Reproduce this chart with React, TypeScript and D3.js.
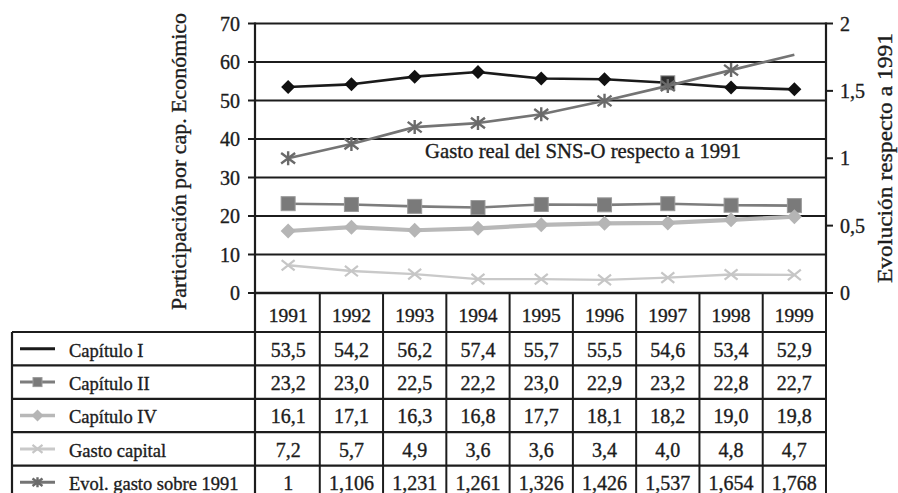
import React from "react";
import * as d3 from "d3";

const years = ["1991", "1992", "1993", "1994", "1995", "1996", "1997", "1998", "1999"];
const capituloI = [53.5, 54.2, 56.2, 57.4, 55.7, 55.5, 54.6, 53.4, 52.9];
const capituloII = [23.2, 23.0, 22.5, 22.2, 23.0, 22.9, 23.2, 22.8, 22.7];
const capituloIV = [16.1, 17.1, 16.3, 16.8, 17.7, 18.1, 18.2, 19.0, 19.8];
const gastoCapital = [7.2, 5.7, 4.9, 3.6, 3.6, 3.4, 4.0, 4.8, 4.7];
const evolGasto = [1, 1.106, 1.231, 1.261, 1.326, 1.426, 1.537, 1.654, 1.768];
const leftTicks = [0, 10, 20, 30, 40, 50, 60, 70];
const rightTicks = [0, 0.5, 1, 1.5, 2];
const seriesNames = ["Capítulo I", "Capítulo II", "Capítulo IV", "Gasto capital", "Evol. gasto sobre 1991"];
const leftTitle = "Participación por cap. Económico";
const rightTitle = "Evolución respecto a 1991";
const annotation = "Gasto real del SNS-O respecto a 1991";

const FONT = "Liberation Serif, DejaVu Serif, serif";
const INK = "#1c1c1c";

const comma = (s: string) => s.replace(".", ",");
const fmt1 = (v: number) => comma(d3.format(".1f")(v));
const fmt3 = (v: number) => (v === 1 ? "1" : comma(d3.format(".3f")(v)));

type Kind = "diamond" | "square" | "x" | "star" | "none";

function Marker({ kind, x, y, size, fill }: { kind: Kind; x: number; y: number; size: number; fill: string }) {
  const h = size / 2;
  if (kind === "diamond") {
    return <path d={`M${x},${y - h}L${x + h},${y}L${x},${y + h}L${x - h},${y}Z`} fill={fill} />;
  }
  if (kind === "square") {
    return <rect x={x - h} y={y - h} width={size} height={size} fill={fill} stroke="#9a9a9a" strokeWidth={1} />;
  }
  if (kind === "x") {
    return <path d={`M${x - h},${y - h * 0.8}L${x + h},${y + h * 0.8}M${x - h},${y + h * 0.8}L${x + h},${y - h * 0.8}`} stroke={fill} strokeWidth={2.2} fill="none" />;
  }
  if (kind === "star") {
    return (
      <path
        d={`M${x - h},${y - h * 0.75}L${x + h},${y + h * 0.75}M${x - h},${y + h * 0.75}L${x + h},${y - h * 0.75}M${x},${y - h}L${x},${y + h}`}
        stroke={fill}
        strokeWidth={2.4}
        fill="none"
      />
    );
  }
  return null;
}

export default function App() {
  const W = 898;
  const H = 493;
  const plotLeft = 255;
  const plotRight = 826;
  const plotTop = 23.5;
  const plotBottom = 293;
  const tableLeft = 12;
  const headerBottom = 332;
  const rowH = 33.4;

  const x = d3.scaleBand<string>().domain(years).range([plotLeft + 1.5, plotRight]).paddingInner(0).paddingOuter(0);
  const cx = (yr: string) => (x(yr) as number) + x.bandwidth() / 2;
  const yL = d3.scaleLinear().domain([0, 70]).range([plotBottom, plotTop]);
  const yR = d3.scaleLinear().domain([0, 2]).range([plotBottom, plotTop]);

  const series = [
    { name: seriesNames[0], values: capituloI, scale: yL, color: "#1a1a1a", width: 2.6, marker: "diamond" as Kind, mSize: 14, mColor: "#111", fmt: fmt1 },
    { name: seriesNames[1], values: capituloII, scale: yL, color: "#7d7d7d", width: 2.6, marker: "square" as Kind, mSize: 14, mColor: "#7a7a7a", fmt: fmt1 },
    { name: seriesNames[2], values: capituloIV, scale: yL, color: "#b8b8b8", width: 4.2, marker: "diamond" as Kind, mSize: 15, mColor: "#b5b5b5", fmt: fmt1 },
    { name: seriesNames[3], values: gastoCapital, scale: yL, color: "#c9c9c9", width: 2.4, marker: "x" as Kind, mSize: 13, mColor: "#c6c6c6", fmt: fmt1 },
    { name: seriesNames[4], values: evolGasto, scale: yR, color: "#747474", width: 2.6, marker: "star" as Kind, mSize: 14, mColor: "#6a6a6a", fmt: fmt3 },
  ];

  const markerFor = (si: number, i: number): Kind => {
    if (si === 0 && years[i] === "1997") return "square";
    if (si === 4 && i === years.length - 1) return "none";
    return series[si].marker;
  };

  const tableBottom = headerBottom + rowH * series.length;
  const colEdges = years.map((yr) => x(yr) as number).concat([plotRight]);
  const txt = { fontFamily: FONT };
  const heavy = { stroke: INK, strokeWidth: 0.35 };

  return (
    <svg width={W} height={H} style={{ position: "absolute", left: 0, top: 0, background: "#fff", fontFamily: FONT }}>
      <rect x={0} y={0} width={W} height={H} fill="#fff" />

      {leftTicks.map((t) => (
        <line key={"g" + t} x1={plotLeft} x2={plotRight} y1={yL(t)} y2={yL(t)} stroke={INK} strokeWidth={2} />
      ))}

      <line x1={plotLeft} x2={plotLeft} y1={plotTop - 1} y2={plotBottom} stroke={INK} strokeWidth={2.2} />
      {leftTicks.map((t) => (
        <g key={"lt" + t}>
          <line x1={plotLeft - 7} x2={plotLeft} y1={yL(t)} y2={yL(t)} stroke={INK} strokeWidth={2} />
          <text style={txt} {...heavy} x={240} y={yL(t)} dy="0.35em" textAnchor="end" fontSize={20} fill={INK}>
            {t}
          </text>
        </g>
      ))}

      <line x1={plotRight} x2={plotRight} y1={plotTop - 1} y2={plotBottom} stroke={INK} strokeWidth={2.2} />
      {rightTicks.map((t) => (
        <g key={"rt" + t}>
          <line x1={plotRight} x2={plotRight + 7} y1={yR(t)} y2={yR(t)} stroke={INK} strokeWidth={2} />
          <text style={txt} {...heavy} x={840} y={yR(t)} dy="0.35em" textAnchor="start" fontSize={20} fill={INK}>
            {comma(String(t))}
          </text>
        </g>
      ))}

      <text
        style={txt}
        {...heavy}
        transform={`translate(186,161.5) rotate(-90)`}
        textAnchor="middle"
        fontSize={21}
        fill={INK}
        textLength={297}
        lengthAdjust="spacingAndGlyphs"
      >
        {leftTitle}
      </text>
      <text
        style={txt}
        {...heavy}
        transform={`translate(892,158) rotate(-90)`}
        textAnchor="middle"
        fontSize={21}
        fill={INK}
        textLength={250}
        lengthAdjust="spacingAndGlyphs"
      >
        {rightTitle}
      </text>

      <text style={txt} {...heavy} x={425} y={158} fontSize={21} fill={INK} textLength={316} lengthAdjust="spacingAndGlyphs">
        {annotation}
      </text>

      {series.map((s, si) => {
        const line = d3
          .line<number>()
          .x((_, i) => cx(years[i]))
          .y((v) => s.scale(v));
        return (
          <g key={"s" + si}>
            <path d={line(s.values) || ""} fill="none" stroke={s.color} strokeWidth={s.width} strokeLinejoin="round" />
            {s.values.map((v, i) => {
              const k = markerFor(si, i);
              const col = si === 0 && k === "square" ? "#2e2e2e" : s.mColor;
              return <Marker key={i} kind={k} x={cx(years[i])} y={s.scale(v)} size={s.mSize} fill={col} />;
            })}
          </g>
        );
      })}

      <g>
        <line x1={plotLeft} x2={plotRight} y1={plotBottom} y2={plotBottom} stroke={INK} strokeWidth={2.6} />
        {d3.range(series.length + 1).map((r) => (
          <line
            key={"h" + r}
            x1={tableLeft}
            x2={plotRight}
            y1={headerBottom + r * rowH}
            y2={headerBottom + r * rowH}
            stroke={INK}
            strokeWidth={2.2}
          />
        ))}
        <line x1={tableLeft} x2={tableLeft} y1={headerBottom} y2={tableBottom} stroke={INK} strokeWidth={2.2} />
        <line x1={plotLeft} x2={plotLeft} y1={plotBottom} y2={tableBottom} stroke={INK} strokeWidth={2.2} />
        {colEdges.slice(1).map((ex, i) => (
          <line key={"v" + i} x1={ex} x2={ex} y1={plotBottom} y2={tableBottom} stroke={INK} strokeWidth={2} />
        ))}

        {years.map((yr) => (
          <text style={txt} {...heavy} key={"hy" + yr} x={cx(yr)} y={322} textAnchor="middle" fontSize={19.5} fill={INK}>
            {yr}
          </text>
        ))}

        {series.map((s, si) => {
          const top = headerBottom + si * rowH;
          const my = top + rowH / 2;
          const lk = s.marker;
          return (
            <g key={"r" + si}>
              <line x1={20} x2={55} y1={my} y2={my} stroke={s.color} strokeWidth={si === 2 ? 3.5 : 3} />
              {si > 0 && (
                <Marker kind={lk} x={37.5} y={my} size={si === 1 ? 9 : si === 2 ? 12 : 10} fill={s.mColor} />
              )}
              <text style={txt} {...heavy} x={69} y={top + 24.5} fontSize={18.5} fill={INK}>
                {s.name}
              </text>
              {s.values.map((v, i) => (
                <text style={txt} {...heavy} key={i} x={cx(years[i])} y={top + 24.5} textAnchor="middle" fontSize={20} fill={INK}>
                  {s.fmt(v)}
                </text>
              ))}
            </g>
          );
        })}
      </g>
    </svg>
  );
}
